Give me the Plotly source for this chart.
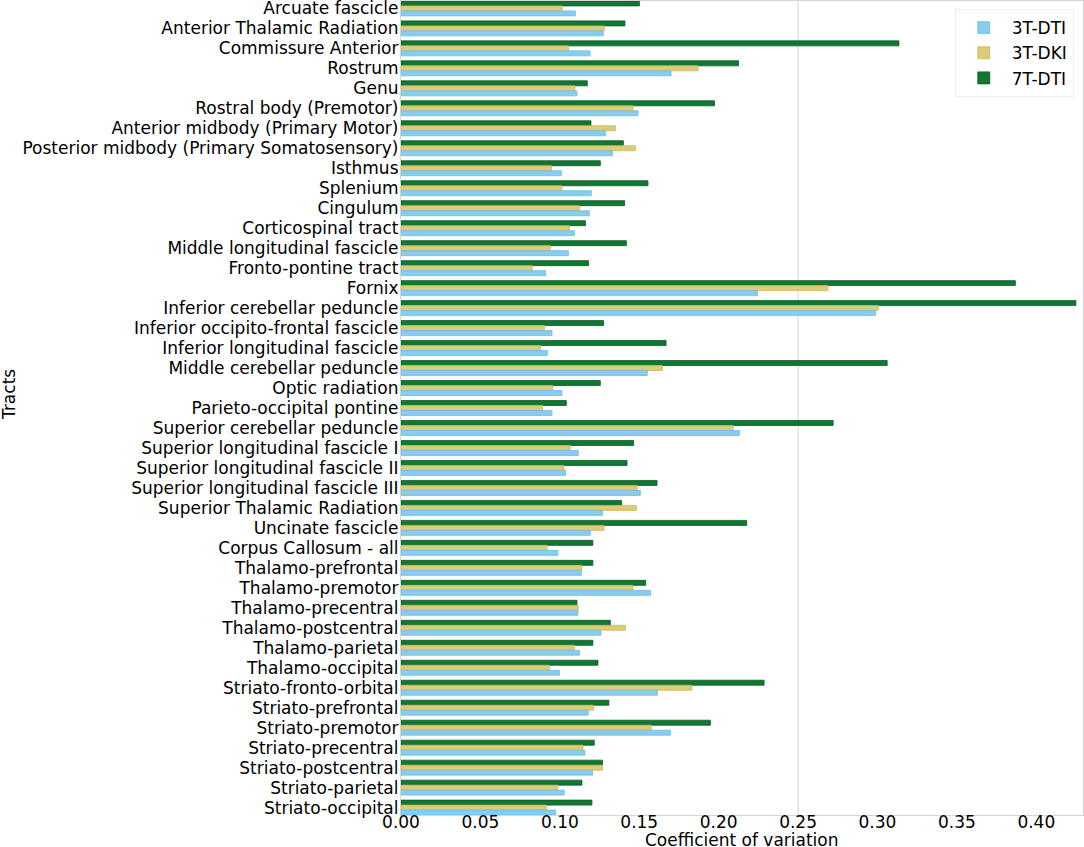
import plotly.graph_objects as go

# tracts, top to bottom
tracts = [
    "Arcuate fascicle", "Anterior Thalamic Radiation", "Commissure Anterior", "Rostrum", "Genu",
    "Rostral body (Premotor)", "Anterior midbody (Primary Motor)",
    "Posterior midbody (Primary Somatosensory)", "Isthmus", "Splenium", "Cingulum",
    "Corticospinal tract", "Middle longitudinal fascicle", "Fronto-pontine tract", "Fornix",
    "Inferior cerebellar peduncle", "Inferior occipito-frontal fascicle",
    "Inferior longitudinal fascicle", "Middle cerebellar peduncle", "Optic radiation",
    "Parieto-occipital pontine", "Superior cerebellar peduncle", "Superior longitudinal fascicle I",
    "Superior longitudinal fascicle II", "Superior longitudinal fascicle III",
    "Superior Thalamic Radiation", "Uncinate fascicle", "Corpus Callosum - all",
    "Thalamo-prefrontal", "Thalamo-premotor", "Thalamo-precentral", "Thalamo-postcentral",
    "Thalamo-parietal", "Thalamo-occipital", "Striato-fronto-orbital", "Striato-prefrontal",
    "Striato-premotor", "Striato-precentral", "Striato-postcentral", "Striato-parietal",
    "Striato-occipital",
]

dti_3t = [0.1098, 0.1274, 0.1190, 0.1700, 0.1108, 0.1492, 0.1287, 0.1331, 0.1009, 0.1198,
          0.1186, 0.1091, 0.1054, 0.0911, 0.2245, 0.2988, 0.0951, 0.0921, 0.1551, 0.1013,
          0.0951, 0.2131, 0.1116, 0.1037, 0.1507, 0.1268, 0.1192, 0.0988, 0.1135, 0.1572,
          0.1114, 0.1259, 0.1123, 0.0997, 0.1614, 0.1179, 0.1696, 0.1158, 0.1206, 0.1028,
          0.0974]
dki_3t = [0.1016, 0.1280, 0.1055, 0.1870, 0.1095, 0.1461, 0.1350, 0.1476, 0.0948, 0.1013,
          0.1123, 0.1060, 0.0940, 0.0827, 0.2688, 0.3005, 0.0903, 0.0879, 0.1646, 0.0955,
          0.0892, 0.2091, 0.1066, 0.1026, 0.1488, 0.1482, 0.1278, 0.0921, 0.1139, 0.1461,
          0.1116, 0.1414, 0.1091, 0.0934, 0.1832, 0.1213, 0.1576, 0.1146, 0.1269, 0.0988,
          0.0915]
dti_7t = [0.1501, 0.1410, 0.3135, 0.2125, 0.1173, 0.1974, 0.1196, 0.1400, 0.1255, 0.1555,
          0.1408, 0.1161, 0.1419, 0.1181, 0.3868, 0.4249, 0.1275, 0.1669, 0.3061, 0.1255,
          0.1041, 0.2721, 0.1465, 0.1423, 0.1612, 0.1389, 0.2177, 0.1208, 0.1208, 0.1541,
          0.1108, 0.1318, 0.1208, 0.1240, 0.2286, 0.1309, 0.1948, 0.1217, 0.1269, 0.1139,
          0.1202]

x_ticks = [0.0, 0.05, 0.10, 0.15, 0.20, 0.25, 0.30, 0.35, 0.40]

font = "DejaVu Sans, Verdana, sans-serif"

fig = go.Figure()
# green first so it sits on top of each group (y axis is reversed)
for name, vals, col, edge in [("7T-DTI", dti_7t, "#117733", "#0b5a24"),
                              ("3T-DKI", dki_3t, "#DDCC77", "#cbb85e"),
                              ("3T-DTI", dti_3t, "#88CCEE", "#6fbde6")]:
    fig.add_trace(go.Bar(y=tracts, x=vals, name=name, orientation="h",
                         marker=dict(color=col, line=dict(color=edge, width=0.8))))

fig.add_shape(type="line", xref="x", yref="paper", x0=0.25, x1=0.25, y0=0, y1=1,
              line=dict(color="#e3e3e3", width=1.5), layer="below")

fig.update_layout(
    width=1084, height=847,
    margin=dict(l=401, r=1, t=1, b=32, autoexpand=False),
    paper_bgcolor="white", plot_bgcolor="white",
    font=dict(family=font, size=17, color="black"),
    barmode="group", bargap=0.25, bargroupgap=0,
    legend=dict(x=0.812, y=0.99, xanchor="left", yanchor="top", traceorder="reversed",
                bgcolor="white", bordercolor="#eeeeee", borderwidth=1,
                font=dict(size=17), itemwidth=46, tracegroupgap=0),
    xaxis=dict(range=[0, 0.4294], tickvals=x_ticks, tickformat=".2f", showgrid=False,
               showline=True, linecolor="#d6d6d6", linewidth=1.2, mirror=True,
               ticks="", zeroline=False, tickfont=dict(size=17), automargin=False,
               ticklabelstandoff=-9),
    yaxis=dict(categoryorder="array", categoryarray=tracts, range=[40.37, -0.37],
               tickmode="array", tickvals=tracts, ticktext=tracts,
               showgrid=False, showline=True, linecolor="#d6d6d6", linewidth=1.2,
               mirror=True, ticks="", tickfont=dict(size=17), automargin=False,
               ticklabelstandoff=-2),
    annotations=[
        dict(text="Coefficient of variation", xref="paper", yref="paper", x=0.5, y=0,
             xanchor="center", yanchor="middle", yshift=-25, showarrow=False,
             font=dict(size=17)),
        dict(text="Tracts", xref="paper", yref="paper", x=0, y=0.5, xanchor="center",
             yanchor="middle", xshift=-392, yshift=13, textangle=-90, showarrow=False,
             font=dict(size=17)),
    ],
)

fig.write_html("out.html", config={"displayModeBar": False},
               post_script="document.body.style.margin='0';")
